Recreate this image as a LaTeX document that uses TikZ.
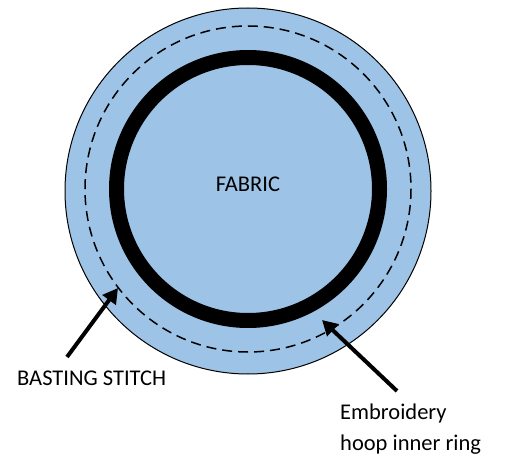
\documentclass[tikz,border=0pt]{standalone}
\usepackage{fontspec}
\setmainfont{Carlito}
\usetikzlibrary{arrows.meta}
\definecolor{fabricblue}{RGB}{157,195,230}
\tikzset{pointer/.style={line width=4pt,-{Triangle[length=15pt,width=16pt]}},
  lbl/.style={font=\fontsize{22.5}{27}\selectfont,inner sep=0pt}}
\begin{document}
\begin{tikzpicture}[x=1pt,y=-1pt]
\useasboundingbox (0,0) rectangle (519,473);
\coordinate (O) at (248,191); \coordinate (M) at (248,189);
\draw[fill=fabricblue,line width=1pt] (O) circle[radius=183];
\draw[dashed,line width=1.5pt,dash pattern=on 10pt off 6pt] (M) circle[radius=163];
\draw[line width=15pt] (M) circle[radius=131.5];
\node[lbl] (fabric) at (248,184) {FABRIC};
\node[lbl,anchor=west] (basting) at (17,378) {BASTING STITCH};
\node[lbl,anchor=west] (hoop1) at (340,413) {Embroidery};
\node[lbl,anchor=west] (hoop2) at (340,445) {hoop inner ring};
\coordinate (bt) at (67,357); \coordinate (bh) at (118,288);
\coordinate (ht) at (397,391); \coordinate (hh) at (322,320);
\draw[pointer] (bt)--(bh); \draw[pointer] (ht)--(hh);
\end{tikzpicture}
\end{document}
